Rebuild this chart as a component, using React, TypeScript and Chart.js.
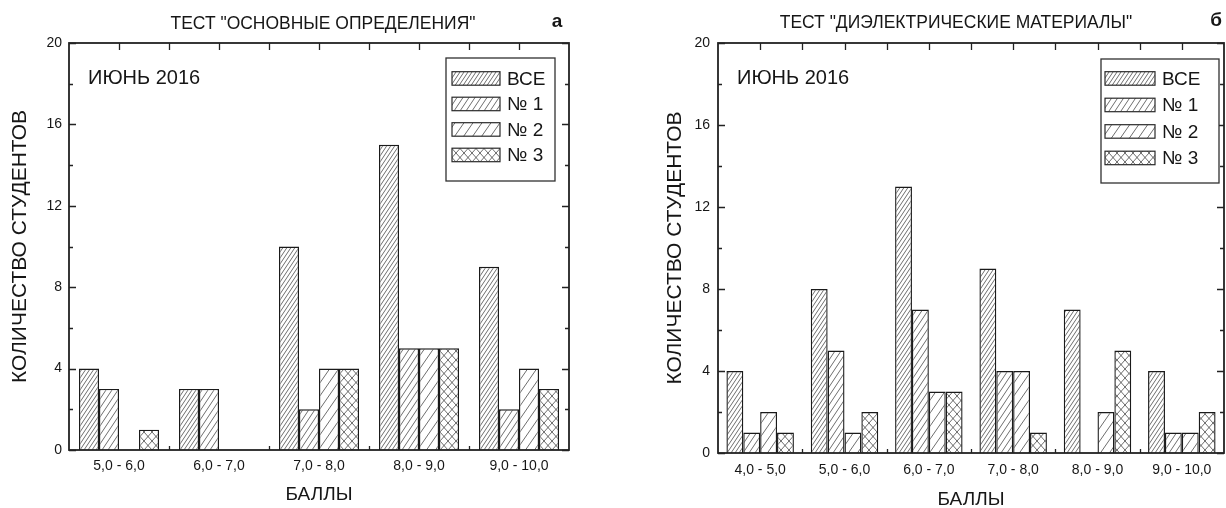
import React, { useEffect, useRef } from 'react';
import { Chart, registerables } from 'chart.js';

Chart.register(...registerables);

// ---- data ----------------------------------------------------------------
const seriesNames = ['ВСЕ', '№ 1', '№ 2', '№ 3'];
const yTickValues = [0, 4, 8, 12, 16, 20];

// Panel "а": test on basic definitions
const basicsCategories = ['5,0 - 6,0', '6,0 - 7,0', '7,0 - 8,0', '8,0 - 9,0', '9,0 - 10,0'];
const basicsAll = [4, 3, 10, 15, 9];
const basicsGroup1 = [3, 3, 2, 5, 2];
const basicsGroup2 = [0, 0, 4, 5, 4];
const basicsGroup3 = [1, 0, 4, 5, 3];

// Panel "б": test on dielectric materials
const dielectricCategories = ['4,0 - 5,0', '5,0 - 6,0', '6,0 - 7,0', '7,0 - 8,0', '8,0 - 9,0', '9,0 - 10,0'];
const dielectricAll = [4, 8, 13, 9, 7, 4];
const dielectricGroup1 = [1, 5, 7, 4, 0, 1];
const dielectricGroup2 = [2, 1, 3, 4, 2, 1];
const dielectricGroup3 = [1, 2, 3, 1, 5, 2];

// ---- styling -------------------------------------------------------------
const FONT = '"Liberation Sans", Arial, Helvetica, sans-serif';
const INK = '#161616';
const FRAME = '#222222';
const CANVAS_W = 613;
const CANVAS_H = 508;

type PanelLayout = {
  title: string;
  titleX: number;
  titleY: number;
  letter: string;
  letterX: number;
  letterY: number;
  noteX: number;
  noteY: number;
  yAxisWidth: number;
  xAxisHeight: number;
  padRight: number;
  yTickPad: number;
  xTickPad: number;
  yTitlePad: number;
  xTitlePad: number;
  legend: {
    left: number; top: number; width: number; height: number;
    swatchX: number; swatchW: number; swatchH: number;
    firstY: number; step: number; textX: number;
  };
};

// Hatch fills: "/" lines at various densities, plus a cross-hatch.
function makeHatch(w: number, h: number, cross: boolean): CanvasPattern | string {
  const c = document.createElement('canvas');
  c.width = w;
  c.height = h;
  const g = c.getContext('2d');
  if (!g) return '#fff';
  g.fillStyle = '#ffffff';
  g.fillRect(0, 0, w, h);
  g.strokeStyle = 'rgba(40,40,40,0.85)';
  g.lineWidth = 0.8;
  g.beginPath();
  for (const k of [-1, 0, 1]) {
    g.moveTo(k * w, h);
    g.lineTo(k * w + w, 0);
  }
  if (cross) {
    for (const k of [-1, 0, 1]) {
      g.moveTo(k * w, 0);
      g.lineTo(k * w + w, h);
    }
  }
  g.stroke();
  return g.createPattern(c, 'repeat') || '#fff';
}

const framePlugin = {
  id: 'panelFrame',
  afterDatasetsDraw(chart: any, _args: any, opts: any) {
    const layout: PanelLayout = opts.layout;
    const { ctx, chartArea } = chart;
    const { left, right, top, bottom } = chartArea;
    const xs = chart.scales.x;
    const ys = chart.scales.y;
    ctx.save();

    // frame
    ctx.strokeStyle = FRAME;
    ctx.lineWidth = 1.8;
    ctx.strokeRect(left, top, right - left, bottom - top);

    // inward ticks on the left and right sides
    ctx.lineWidth = 1.3;
    ctx.beginPath();
    for (let v = 0; v <= 20; v += 2) {
      const py = Math.round(ys.getPixelForValue(v)) + 0.5;
      const len = v % 4 === 0 ? 7 : 4;
      ctx.moveTo(left, py);
      ctx.lineTo(left + len, py);
      ctx.moveTo(right, py);
      ctx.lineTo(right - len, py);
    }
    // top ticks at category centres and boundaries, bottom ticks at boundaries
    const n = chart.data.labels.length;
    const half = (xs.getPixelForValue(1) - xs.getPixelForValue(0)) / 2;
    for (let i = 0; i < n; i++) {
      const c = xs.getPixelForValue(i);
      for (const px of [c, c + half]) {
        if (px < right - 1) {
          const rx = Math.round(px) + 0.5;
          ctx.moveTo(rx, top);
          ctx.lineTo(rx, top + 7);
        }
      }
      if (i > 0) {
        const bx = Math.round(c - half) + 0.5;
        ctx.moveTo(bx, bottom);
        ctx.lineTo(bx, bottom - 4);
      }
    }
    ctx.stroke();

    // legend box
    const lg = layout.legend;
    ctx.fillStyle = '#ffffff';
    ctx.fillRect(lg.left, lg.top, lg.width, lg.height);
    ctx.strokeStyle = '#303030';
    ctx.lineWidth = 1.3;
    ctx.strokeRect(lg.left, lg.top, lg.width, lg.height);
    chart.data.datasets.forEach((ds: any, i: number) => {
      const sy = lg.firstY + i * lg.step;
      ctx.fillStyle = ds.backgroundColor;
      ctx.fillRect(lg.swatchX, sy, lg.swatchW, lg.swatchH);
      ctx.strokeStyle = '#2a2a2a';
      ctx.lineWidth = 1.2;
      ctx.strokeRect(lg.swatchX, sy, lg.swatchW, lg.swatchH);
      ctx.fillStyle = INK;
      ctx.font = `19px ${FONT}`;
      ctx.textAlign = 'left';
      ctx.textBaseline = 'middle';
      ctx.fillText(ds.label, lg.textX, sy + lg.swatchH / 2 + 1);
    });

    // panel title (slightly condensed), letter and date note
    ctx.fillStyle = INK;
    ctx.textBaseline = 'middle';
    ctx.textAlign = 'center';
    ctx.save();
    ctx.translate(layout.titleX, layout.titleY);
    ctx.scale(0.92, 1);
    ctx.font = `19px ${FONT}`;
    ctx.fillText(layout.title, 0, 0);
    ctx.restore();
    ctx.font = `bold 19px ${FONT}`;
    ctx.fillText(layout.letter, layout.letterX, layout.letterY);
    ctx.textAlign = 'left';
    ctx.font = `20px ${FONT}`;
    ctx.fillText('ИЮНЬ 2016', layout.noteX, layout.noteY);
    ctx.restore();
  },
};

function buildChart(canvas: HTMLCanvasElement, categories: string[], series: number[][], layout: PanelLayout) {
  const fills = [makeHatch(4, 6, false), makeHatch(6, 9, false), makeHatch(9, 13, false), makeHatch(8, 9, true)];
  return new Chart(canvas, {
    type: 'bar',
    data: {
      labels: categories,
      datasets: series.map((values, i) => ({
        label: seriesNames[i],
        data: values,
        backgroundColor: fills[i] as any,
        borderColor: '#1a1a1a',
        borderWidth: 1.4,
        categoryPercentage: 0.8,
        barPercentage: 1,
      })),
    },
    options: {
      responsive: false,
      animation: false,
      events: [],
      layout: { padding: { left: 0, right: layout.padRight, top: 43, bottom: 0 } },
      plugins: {
        legend: { display: false },
        title: { display: false },
        tooltip: { enabled: false },
        panelFrame: { layout },
      } as any,
      scales: {
        x: {
          type: 'category',
          grid: { display: false, drawTicks: false },
          border: { display: false },
          ticks: {
            font: { family: FONT, size: 14 },
            color: INK,
            padding: layout.xTickPad,
            maxRotation: 0,
            autoSkip: false,
          },
          title: {
            display: true,
            text: 'БАЛЛЫ',
            font: { family: FONT, size: 19, lineHeight: 0.8 },
            color: INK,
            padding: { top: 0, bottom: layout.xTitlePad },
          },
          afterFit: (s: any) => { s.height = layout.xAxisHeight; },
        },
        y: {
          min: 0,
          max: 20,
          grid: { display: false, drawTicks: false },
          border: { display: false },
          ticks: {
            font: { family: FONT, size: 14 },
            color: INK,
            padding: layout.yTickPad,
          },
          afterBuildTicks: (s: any) => { s.ticks = yTickValues.map((v) => ({ value: v })); },
          title: {
            display: true,
            text: 'КОЛИЧЕСТВО СТУДЕНТОВ',
            font: { family: FONT, size: 21, lineHeight: 1 },
            color: INK,
            padding: { top: layout.yTitlePad, bottom: 0 },
          },
          afterFit: (s: any) => { s.width = layout.yAxisWidth; },
        },
      },
    } as any,
    plugins: [framePlugin as any],
  });
}

const basicsLayout: PanelLayout = {
  title: 'ТЕСТ "ОСНОВНЫЕ ОПРЕДЕЛЕНИЯ"',
  titleX: 323, titleY: 24,
  letter: 'а', letterX: 557, letterY: 22,
  noteX: 88, noteY: 78,
  yAxisWidth: 69, xAxisHeight: 58, padRight: 44,
  yTickPad: 7, xTickPad: 8, yTitlePad: 9.5, xTitlePad: 6,
  legend: {
    left: 446, top: 58, width: 109, height: 123,
    swatchX: 452, swatchW: 48, swatchH: 13.5,
    firstY: 71.7, step: 25.5, textX: 507,
  },
};

const dielectricLayout: PanelLayout = {
  title: 'ТЕСТ "ДИЭЛЕКТРИЧЕСКИЕ МАТЕРИАЛЫ"',
  titleX: 343, titleY: 23,
  letter: 'б', letterX: 603, letterY: 21,
  noteX: 124, noteY: 78,
  yAxisWidth: 105, xAxisHeight: 55, padRight: 2,
  yTickPad: 8, xTickPad: 9, yTitlePad: 51.5, xTitlePad: 0.5,
  legend: {
    left: 488, top: 59, width: 118, height: 124,
    swatchX: 492, swatchW: 50, swatchH: 13.5,
    firstY: 71.7, step: 26.5, textX: 549,
  },
};

export default function App() {
  const leftRef = useRef<HTMLCanvasElement>(null);
  const rightRef = useRef<HTMLCanvasElement>(null);

  useEffect(() => {
    const charts: Chart[] = [];
    if (leftRef.current) {
      charts.push(buildChart(leftRef.current, basicsCategories,
        [basicsAll, basicsGroup1, basicsGroup2, basicsGroup3], basicsLayout));
    }
    if (rightRef.current) {
      charts.push(buildChart(rightRef.current, dielectricCategories,
        [dielectricAll, dielectricGroup1, dielectricGroup2, dielectricGroup3], dielectricLayout));
    }
    return () => charts.forEach((c) => c.destroy());
  }, []);

  return (
    <div style={{ position: 'absolute', left: 0, top: 0, width: 1226, height: 508, background: '#fff', overflow: 'hidden' }}>
      <canvas ref={leftRef} width={CANVAS_W} height={CANVAS_H}
        style={{ position: 'absolute', left: 0, top: 0, width: CANVAS_W, height: CANVAS_H }} />
      <canvas ref={rightRef} width={CANVAS_W} height={CANVAS_H}
        style={{ position: 'absolute', left: CANVAS_W, top: 0, width: CANVAS_W, height: CANVAS_H }} />
    </div>
  );
}
